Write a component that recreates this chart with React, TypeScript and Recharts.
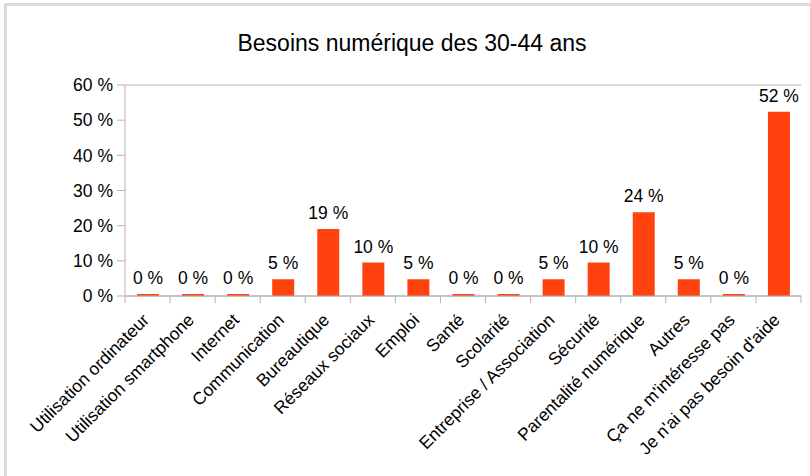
import React from "react";
import { BarChart, Bar, XAxis, YAxis, CartesianGrid, LabelList } from "recharts";

const title = "Besoins numérique des 30-44 ans";
const categories = [
  "Utilisation ordinateur",
  "Utilisation smartphone",
  "Internet",
  "Communication",
  "Bureautique",
  "Réseaux sociaux",
  "Emploi",
  "Santé",
  "Scolarité",
  "Entreprise / Association",
  "Sécurité",
  "Parentalité numérique",
  "Autres",
  "Ça ne m'intéresse pas",
  "Je n'ai pas besoin d'aide",
];
const values = [0, 0, 0, 4.76, 19.05, 9.52, 4.76, 0, 0, 4.76, 9.52, 23.81, 4.76, 0, 52.38];
const yTicks = [0, 10, 20, 30, 40, 50, 60];

const data = categories.map((c, i) => ({ name: c, value: values[i] }));

const W = 810;
const H = 476;
const M = { top: 85, right: 9, left: 5, bottom: 0 };
const Y_W = 120;
const X_H = 180;
const PLOT_W = W - M.left - M.right - Y_W;
const FONT = "'Liberation Sans', Arial, sans-serif";
const GRID = "#b3b3b3";
const BAR = "#ff420e";

const XTick = (props: any) => {
  const { x, y, payload, index } = props;
  const band = PLOT_W / categories.length;
  return (
    <g>
      <line x1={x - band / 2} x2={x - band / 2} y1={y} y2={y + 7} stroke={GRID} strokeWidth={1} />
      {index === categories.length - 1 && (
        <line x1={x + band / 2} x2={x + band / 2} y1={y} y2={y + 7} stroke={GRID} strokeWidth={1} />
      )}
      <g transform={`translate(${x + 2.5},${y + 25}) rotate(-45)`}>
        <text x={0} y={0} textAnchor="end" fontSize={17.5} fontFamily={FONT} fill="#000">
          {payload.value}
        </text>
      </g>
    </g>
  );
};

const ValueLabel = (props: any) => {
  const { x, y, width, value } = props;
  return (
    <text
      x={Number(x) + Number(width) / 2}
      y={Number(y) - 10}
      textAnchor="middle"
      fontSize={17.5}
      fontFamily={FONT}
      fill="#000"
    >
      {`${Math.round(Number(value))} %`}
    </text>
  );
};

export default function App() {
  return (
    <div style={{ position: "absolute", left: 0, top: 0, width: W, height: H, background: "#fff" }}>
      <div style={{ position: "absolute", left: 4, top: 3, width: W - 4, height: 3, background: "#dadada" }} />
      <div style={{ position: "absolute", left: 4, top: 3, width: 3, height: H - 3, background: "#dadada" }} />
      <svg width={W} height={60} style={{ position: "absolute", left: 0, top: 0 }}>
        <text x={412} y={51} textAnchor="middle" fontSize={23} fontFamily={FONT} fill="#000">
          {title}
        </text>
      </svg>
      <div style={{ position: "absolute", left: 0, top: 0 }}>
        <BarChart width={W} height={H} data={data} margin={M} barSize={22}>
          <CartesianGrid vertical={false} stroke={GRID} strokeWidth={1} />
          <XAxis
            dataKey="name"
            interval={0}
            height={X_H}
            tickSize={0}
            tickMargin={0}
            tickLine={false}
            axisLine={{ stroke: GRID }}
            tick={<XTick />}
          />
          <YAxis
            yAxisId="left"
            width={Y_W}
            domain={[0, 60]}
            ticks={yTicks}
            interval={0}
            tickSize={8}
            tickMargin={4}
            tickLine={{ stroke: GRID }}
            axisLine={{ stroke: GRID }}
            tickFormatter={(v: number) => `${v} %`}
            tick={{ fontSize: 17.5, fontFamily: FONT, fill: "#000" }}
          />
          <YAxis
            yAxisId="right"
            orientation="right"
            width={0}
            domain={[0, 60]}
            tick={false}
            tickLine={false}
            axisLine={{ stroke: GRID }}
          />
          <Bar yAxisId="left" dataKey="value" fill={BAR} minPointSize={2} isAnimationActive={false}>
            <LabelList dataKey="value" content={<ValueLabel />} />
          </Bar>
        </BarChart>
      </div>
    </div>
  );
}
